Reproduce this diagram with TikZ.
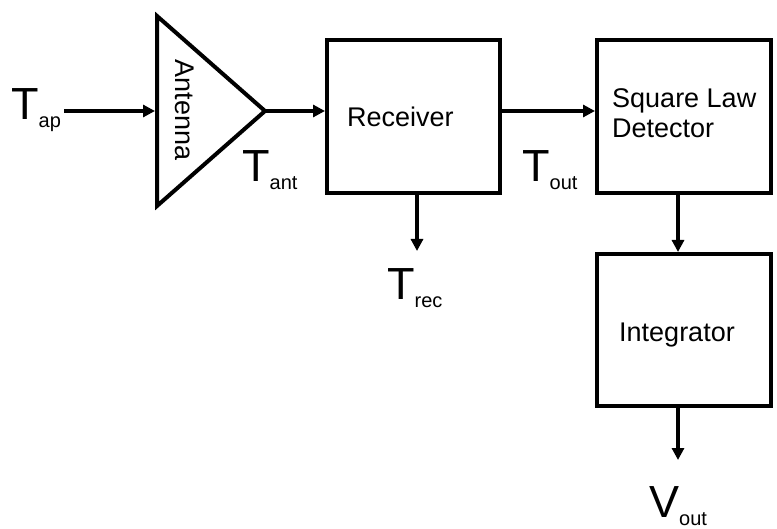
\documentclass[tikz,border=0pt]{standalone}
\usepackage{fontspec}
\setmainfont{Liberation Sans}
\usetikzlibrary{arrows.meta,calc}
\begin{document}
\begin{tikzpicture}[x=1pt,y=-1pt,
  blk/.style={draw,line width=4pt,rectangle,inner sep=0pt},
  arr/.style={line width=3.6pt,-{Triangle[length=12pt,width=12pt]}},
  lbl/.style={inner sep=0pt,font=\fontsize{27}{30}\selectfont},
  sig/.style={inner sep=0pt,anchor=base west,font=\fontsize{45}{45}\selectfont}
]
\useasboundingbox (0,0) rectangle (777,529);
\fill[white] (0,0) rectangle (777,529);
% antenna triangle
\coordinate (ta) at (157,16);
\coordinate (tb) at (157,206);
\coordinate (tc) at (265,111);
\coordinate (antin) at (155,111);
\draw[line width=4pt,line join=miter] (ta) -- (tb) -- (tc) -- cycle;
\node[lbl,rotate=-90] (antlbl) at (185,110) {Antenna};
% boxes
\node[blk,minimum width=173pt,minimum height=153pt] (rec) at (413.5,116.5) {};
\node[blk,minimum width=174pt,minimum height=153pt] (sld) at (684,116.5) {};
\node[blk,minimum width=174pt,minimum height=152pt] (int) at (684,330) {};
\node[lbl,anchor=base west] (reclbl) at (347,127) {Receiver};
\node[lbl,anchor=west,align=left] (sldlbl) at (612,113) {Square Law\\Detector};
\node[lbl,anchor=base west] (intlbl) at (619,342) {Integrator};
% signal labels
\node[sig] (Tap) at (11,120) {T\raisebox{-8pt}{\fontsize{20}{20}\selectfont ap}};
\node[sig] (Tant) at (242,182) {T\raisebox{-8pt}{\fontsize{20}{20}\selectfont ant}};
\node[sig] (Tout) at (522,182) {T\raisebox{-8pt}{\fontsize{20}{20}\selectfont out}};
\node[sig] (Trec) at (387,300) {T\raisebox{-8pt}{\fontsize{20}{20}\selectfont rec}};
\node[sig] (Vout) at (649,517) {V\raisebox{-8pt}{\fontsize{20}{20}\selectfont out}};
% connectors
\coordinate (trecend) at (417,251);
\coordinate (xc) at (678,0);
\coordinate (voutend) at (678,460);
\draw[arr,shorten <=3pt] (Tap.east |- antin) -- (antin);
\draw[arr] (tc) -- (tc -| rec.west);
\draw[arr] (tc -| rec.east) -- (tc -| sld.west);
\draw[arr] (rec.south -| trecend) -- (trecend);
\draw[arr] (sld.south -| xc) -- (int.north -| xc);
\draw[arr] (int.south -| xc) -- (voutend);
\end{tikzpicture}
\end{document}
